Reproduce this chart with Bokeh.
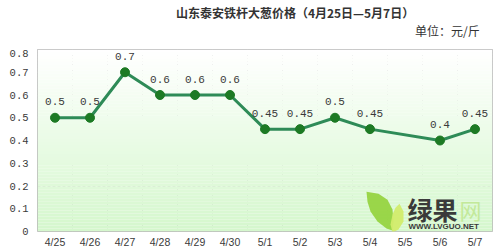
from bokeh.plotting import figure
from bokeh.models import Range1d, FixedTicker
from bokeh.layouts import column
from bokeh.core.properties import value
from bokeh.embed import file_html
from bokeh.resources import INLINE

# ---- data ----
dates = ["4/25", "4/26", "4/27", "4/28", "4/29", "4/30", "5/1",
         "5/2", "5/3", "5/4", "5/5", "5/6", "5/7"]
prices = [0.5, 0.5, 0.7, 0.6, 0.6, 0.6, 0.45, 0.45, 0.5, 0.45, None, 0.4, 0.45]
price_labels = ["0.5", "0.5", "0.7", "0.6", "0.6", "0.6", "0.45", "0.45",
                "0.5", "0.45", "", "0.4", "0.45"]
y_ticks = [0, 0.1, 0.2, 0.3, 0.4, 0.5, 0.6, 0.7, 0.8]
y_tick_labels = ["0", "0.1", "0.2", "0.3", "0.4", "0.5", "0.6", "0.7", "0.8"]
title_text = "山东泰安铁杆大葱价格（4月25日—5月7日）"
unit_text = "单位：元/斤"

idx = [i for i, v in enumerate(prices) if v is not None]
xs = idx
ys = [prices[i] for i in idx]
labs = [price_labels[i] for i in idx]

W, H = 500, 250
HEAD = 49
L, R, B = 37, 492, 232

# ---- header (title + unit) ----
head = figure(width=W, height=HEAD, x_range=Range1d(0, W), y_range=Range1d(HEAD, 0),
              x_axis_type=None, y_axis_type=None, output_backend="svg",
              toolbar_location=None, min_border=0)
head.outline_line_color = None
head.background_fill_color = "white"
head.border_fill_color = "white"
head.text(x=[283], y=[12], text=[title_text], text_align="center", text_baseline="middle",
          text_font=value("Noto Sans CJK SC"), text_font_style="bold",
          text_font_size="12px", text_color="#333333")
head.text(x=[486], y=[30], text=[unit_text], text_align="right", text_baseline="middle",
          text_font=value("Noto Sans CJK SC"), text_font_size="12px", text_color="#333333")

# ---- main chart ----
p = figure(width=W, height=H - HEAD,
           x_range=Range1d(-0.5, len(dates) - 0.5),
           y_range=Range1d(0, 0.8),
           output_backend="svg", toolbar_location=None,
           min_border_left=L, min_border_right=W - R,
           min_border_top=0, min_border_bottom=H - B)
p.extra_x_ranges = {"px": Range1d(L, R)}
p.extra_y_ranges = {"py": Range1d(B, HEAD)}

p.background_fill_color = "white"
p.border_fill_color = "white"
p.outline_line_color = "#b8b8b8"
p.outline_line_width = 1

# gradient background (styling)
top_c = (255, 255, 255)
bot_c = (212, 247, 204)
step = 3
rows = list(range(HEAD, B, step))
bots, tops, cols = [], [], []
for r in rows:
    t = (r - HEAD) / (B - HEAD)
    c = tuple(int(round(top_c[k] + (bot_c[k] - top_c[k]) * t)) for k in range(3))
    tops.append(r)
    bots.append(min(r + step, B))
    cols.append("#%02x%02x%02x" % c)
p.quad(left=L, right=R, top=tops, bottom=bots, fill_color=cols, line_color=None,
       x_range_name="px", y_range_name="py")

# axes
p.xaxis.ticker = FixedTicker(ticks=list(range(len(dates))))
p.xaxis.major_label_overrides = {i: d for i, d in enumerate(dates)}
p.yaxis.ticker = FixedTicker(ticks=y_ticks)
p.yaxis.major_label_overrides = {t: s for t, s in zip(y_ticks, y_tick_labels)}
for ax in (p.xaxis, p.yaxis):
    ax.axis_line_color = None
    ax.major_tick_line_color = None
    ax.minor_tick_line_color = None
    ax.major_tick_out = 0
    ax.major_tick_in = 0
    ax.minor_tick_out = 0
    ax.minor_tick_in = 0
    ax.major_label_text_color = "#3a3a3a"
    ax.major_label_text_font_size = "10.5px"
p.xaxis.major_label_text_font = "Liberation Sans"
p.yaxis.major_label_text_font = "Liberation Mono"
p.xaxis.major_label_standoff = 4
p.yaxis.major_label_standoff = 9

p.xgrid.ticker = FixedTicker(ticks=[i + 0.5 for i in range(len(dates) - 1)])
p.ygrid.ticker = FixedTicker(ticks=y_ticks)
for g in (p.xgrid, p.ygrid):
    g.grid_line_color = "#c4c4c4"
    g.grid_line_dash = "3 2"
    g.grid_line_width = 1

# watermark (decoration, pixel space of the whole picture)
p.patch([366, 378, 387, 392, 393, 392, 386, 377, 370, 367],
        [192, 194, 200, 210, 222, 231, 229, 222, 212, 202],
        fill_color="#92d23a", line_color=None, fill_alpha=0.9,
        x_range_name="px", y_range_name="py")
p.patch([399, 403, 403, 398, 392, 390, 392, 395],
        [204, 212, 222, 230, 233, 225, 215, 208],
        fill_color="#d2ec6c", line_color=None, fill_alpha=0.95,
        x_range_name="px", y_range_name="py")
p.text(x=[407], y=[209], text=["绿果"], text_font=value("Noto Sans CJK SC"),
       text_font_size="25px", text_font_style="bold", text_color="#3a3a3a",
       text_baseline="middle", x_range_name="px", y_range_name="py")
p.text(x=[459], y=[209], text=["网"], text_font=value("Noto Sans CJK SC"),
       text_font_size="22px", text_color="#c3e99a", text_baseline="middle",
       x_range_name="px", y_range_name="py")
p.text(x=[408], y=[227], text=["WWW.LVGUO.NET"], text_font=value("Liberation Sans"),
       text_font_size="8px", text_font_style="bold", text_color="#3a3a3a",
       text_baseline="middle", x_range_name="px", y_range_name="py")

# data
p.line(xs, ys, line_color="#2e8b57", line_width=3)
p.scatter(xs, ys, size=9, fill_color="#1d7a24", line_color="#1d7a24")
p.text(xs, ys, text=labs, y_offset=-16, text_align="center", text_baseline="middle",
       text_font=value("Liberation Mono"), text_font_size="11px", text_color="#3a3a3a")

layout = column(head, p, spacing=0)
open("out.html", "w").write(file_html(layout, INLINE))
